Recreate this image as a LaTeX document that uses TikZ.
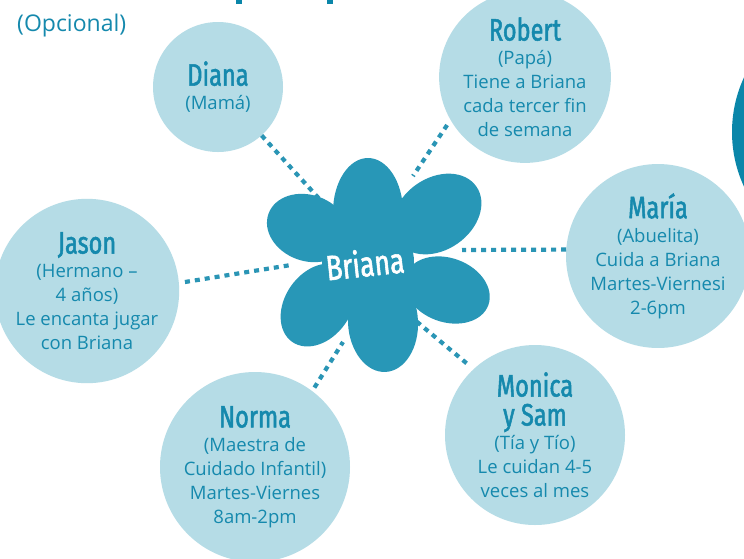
\documentclass[tikz,border=0pt]{standalone}
\usepackage{fontspec}
\setmainfont{Open Sans}
\newfontfamily\headff[FakeStretch=0.76, FakeBold=1.6]{Fira Sans}
\newfontfamily\bodyff{Open Sans}
\definecolor{circ}{HTML}{B5DCE6}
\definecolor{tealtext}{HTML}{1589AD}
\definecolor{flowerc}{HTML}{2897B7}
\definecolor{dotc}{HTML}{2A95B5}
\definecolor{darkc}{HTML}{0A86A9}
\newcommand\hd[1]{{\headff\fontsize{31}{32}\selectfont #1}}
\tikzset{
  person/.style={circle, fill=circ, inner sep=0pt, align=center, text=tealtext,
    font=\bodyff\fontsize{18.5}{24}\selectfont},
  conn/.style={draw=dotc, line width=4.2pt, dash pattern=on 5pt off 5pt},
  petal/.style={fill=flowerc},
}
\begin{document}
\begin{tikzpicture}[x=1pt,y=-1pt]
\useasboundingbox (0,0) rectangle (744,558);
\clip (0,0) rectangle (744,558);
\fill[white] (0,0) rectangle (744,558);
\fill[darkc] (862,132) circle (130);
\fill[darkc] (236,0) rectangle (242,4);
\fill[darkc] (327,0) rectangle (333,4);
\node[text=tealtext, font=\bodyff\fontsize{23}{24}\selectfont, anchor=west, inner sep=0pt] (opc) at (17,26) {(Opcional)};

\node[person, minimum size=130] (diana) at (218,87) {\hd{Diana}\\(Mamá)};
\node[person, minimum size=166] (robert) at (525,77) {\hd{Robert}\\(Papá)\\Tiene a Briana\\cada tercer fin\\de semana};
\node[person, minimum size=160] (maria) at (658,256) {\hd{María}\\(Abuelita)\\Cuida a Briana\\Martes-Viernesi\\2-6pm};
\node[person, minimum size=170] (jason) at (87,291) {\hd{Jason}\\(Hermano –\\4 años)\\Le encanta jugar\\con Briana};
\node[person, minimum size=180] (monica) at (535,435) {\hd{Monica}\\[5pt]\hd{y Sam}\\(Tía y Tío)\\Le cuidan 4-5\\veces al mes};
\node[person, minimum size=190] (norma) at (255,467) {\hd{Norma}\\(Maestra de\\Cuidado Infantil)\\Martes-Viernes\\8am-2pm};

\coordinate (dE) at (333,214);
\coordinate (rE) at (413,176);
\coordinate (mE) at (462,250);
\coordinate (jE) at (291,265);
\coordinate (nE) at (343,342);
\coordinate (oE) at (416,321);

\draw[conn] (diana.-48) -- (dE);
\draw[conn, shorten <=6pt] (robert.210) -- (rE);
\draw[conn] (maria.176) -- (mE);
\draw[conn, shorten <=6pt] (jason.5) -- (jE);
\draw[conn, shorten <=4pt] (norma.53) -- (nE);
\draw[conn, shorten <=9pt] (monica.133) -- (oE);

% flower
\fill[petal] (368,262) circle (46);
\fill[petal] (368,212) ellipse [x radius=35, y radius=54];
\fill[petal, rotate around={35:(437,214)}] (437,214) ellipse [x radius=48, y radius=36];
\fill[petal, rotate around={-20:(447,290)}] (447,290) ellipse [x radius=44, y radius=32];
\fill[petal, rotate around={-87:(383,322)}] (383,322) ellipse [x radius=50, y radius=35];
\fill[petal, rotate around={-125:(318,305)}] (318,305) ellipse [x radius=45, y radius=33];
\fill[petal, rotate around={160:(308,228)}] (308,228) ellipse [x radius=42, y radius=33];

\node[text=white, font=\headff\fontsize{35}{36}\selectfont, rotate=6] (bri) at (365,263) {Briana};
\end{tikzpicture}
\end{document}
